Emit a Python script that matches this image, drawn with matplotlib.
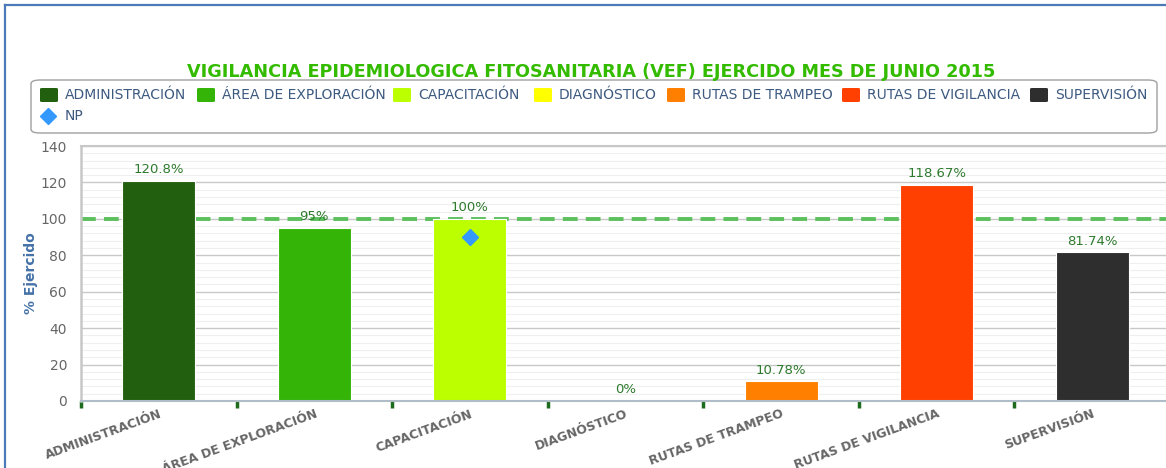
import matplotlib
matplotlib.use("Agg")
import matplotlib.pyplot as plt
from matplotlib.patches import FancyBboxPatch
from matplotlib.lines import Line2D
import numpy as np

categories = ["ADMINISTRACIÓN", "ÁREA DE EXPLORACIÓN", "CAPACITACIÓN", "DIAGNÓSTICO",
              "RUTAS DE TRAMPEO", "RUTAS DE VIGILANCIA", "SUPERVISIÓN"]
values = [120.8, 95, 100, 0, 10.78, 118.67, 81.74]
value_labels = ["120.8%", "95%", "100%", "0%", "10.78%", "118.67%", "81.74%"]
colors = ["#22600f", "#33b407", "#bbff00", "#ffff00", "#ff8000", "#ff4000", "#2e2e2e"]
np_category = 2
np_value = 90
target = 100
title = "VIGILANCIA EPIDEMIOLOGICA FITOSANITARIA (VEF) EJERCIDO MES DE JUNIO 2015"

plt.rcParams['font.family'] = ['DejaVu Sans']
W, H = 1166, 468
fig = plt.figure(figsize=(W / 100, H / 100), dpi=100)

def fx(px): return px / W
def fy(py): return 1 - py / H

# outer frame (blue)
fig.add_artist(Line2D([fx(5), fx(5)], [fy(5), 0], color="#4a7ab8", lw=1.6))
fig.add_artist(Line2D([fx(5), 1], [fy(5), fy(5)], color="#4a7ab8", lw=1.6))

x0, x1 = 81, 1170
y0, y1 = 401, 146
ax = fig.add_axes([fx(x0), fy(y0), fx(x1) - fx(x0), fy(y1) - fy(y0)])
ax.set_xlim(-0.5, len(categories) - 0.5)
ax.set_ylim(0, 140)

# grid
for v in np.arange(0, 141, 4):
    if v % 20 != 0:
        ax.axhline(v, color="#efefef", lw=0.8, zorder=0)
for v in range(20, 141, 20):
    ax.axhline(v, color="#c8c8c8", lw=1.0, zorder=0)

xs = np.arange(len(categories))
ax.bar(xs, values, width=0.47, color=colors, edgecolor="white", linewidth=0.8, zorder=2)
for x, v, lab in zip(xs, values, value_labels):
    ax.text(x, v + 2.5, lab, ha="center", va="bottom", fontsize=9.5, color="#2d7a2d", zorder=5)

ax.axhline(target, color="#5cc05c", lw=2.8, dashes=(3.8, 2.1), zorder=1)
ax.plot([np_category], [np_value], marker="D", color="#3399ff", markersize=8, linestyle="none", zorder=4)

ax.spines["right"].set_visible(False)
ax.spines["top"].set_color("#c8c8c8")
ax.spines["top"].set_linewidth(1.5)
ax.spines["left"].set_color("#c8c8c8")
ax.spines["left"].set_linewidth(1.8)
ax.spines["bottom"].set_color("#b0bcc8")
ax.spines["bottom"].set_linewidth(1.5)

ax.set_yticks(range(0, 141, 20))
ax.tick_params(axis="y", length=0, labelsize=10, labelcolor="#666666", pad=10)
ax.set_xticks(np.arange(-0.5, len(categories), 1.0))
ax.set_xticklabels([])
ax.tick_params(axis="x", length=5, width=2.5, color="#1e6b1e", direction="out")

for x, c in zip(xs, categories):
    ax.text(x, -3.5, c, rotation=20, ha="right", va="top", rotation_mode="anchor",
            fontsize=9, fontweight="bold", color="#666666", transform=ax.transData, clip_on=False)

ax.set_ylabel("% Ejercido", fontsize=10, fontweight="bold", color="#4572a7", labelpad=2)

fig.text(fx(591), fy(72), title, ha="center", va="center", fontsize=12.7,
         fontweight="bold", color="#33bb00")

# legend box
box = FancyBboxPatch((fx(31), fy(133)), fx(1157) - fx(31), fy(80) - fy(133),
                     boxstyle="round,pad=0,rounding_size=0.008", transform=fig.transFigure,
                     facecolor="white", edgecolor="#a0a0a0", lw=1.0)
fig.add_artist(box)

leg_x = [40, 197, 393, 534, 667, 842, 1030]
for lx, c, col in zip(leg_x, categories, colors):
    fig.add_artist(FancyBboxPatch((fx(lx), fy(102)), fx(18), fy(88) - fy(102),
                                  boxstyle="round,pad=0,rounding_size=0.002",
                                  transform=fig.transFigure, facecolor=col, edgecolor="none"))
    fig.text(fx(lx + 25), fy(95), c, ha="left", va="center", fontsize=10, color="#3d5a80")
fig.add_artist(Line2D([fx(48)], [fy(116)], marker="D", color="#3399ff", markersize=8,
                      transform=fig.transFigure, linestyle="none"))
fig.text(fx(65), fy(116), "NP", ha="left", va="center", fontsize=10, color="#3d5a80")

fig.savefig("out.png", dpi=100)
